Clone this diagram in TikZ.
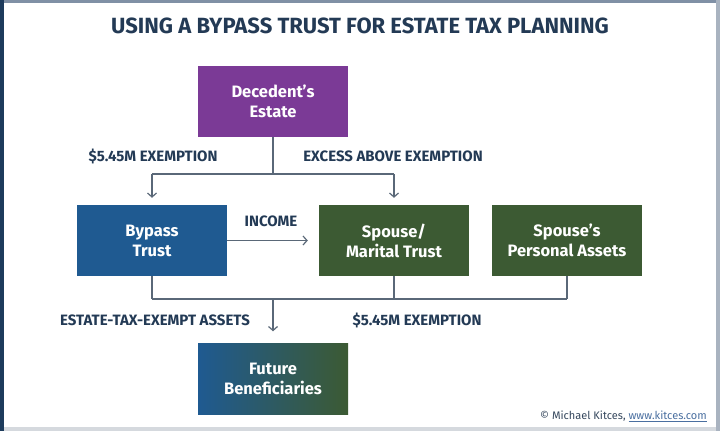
\documentclass[tikz,border=0pt]{standalone}
\usepackage{fontspec}
\setmainfont{Fira Sans}
\usetikzlibrary{arrows.meta}
\definecolor{navy}{HTML}{233A55}
\definecolor{purp}{HTML}{7B3A96}
\definecolor{bblue}{HTML}{1F5A91}
\definecolor{dgreen}{HTML}{3C5A33}
\definecolor{linec}{HTML}{5A6878}
\definecolor{framet}{HTML}{8090A5}
\definecolor{framel}{HTML}{1D3B5C}
\definecolor{framer}{HTML}{A9B3C0}
\definecolor{frameb}{HTML}{D5D9DE}
\definecolor{linkc}{HTML}{4A6FA0}
\tikzset{
  box/.style={minimum width=150pt, minimum height=71pt, inner sep=0pt, text=white,
    font=\fontsize{16.5}{20}\selectfont\bfseries, align=center},
  lbl/.style={text=navy, font=\fontsize{15}{17}\selectfont\bfseries, inner sep=0pt},
  conn/.style={draw=linec, line width=1.4pt},
  arr/.style={conn, -{Straight Barb[length=4pt,width=9pt,line width=1.2pt]}}
}
\begin{document}
\begin{tikzpicture}[x=1pt,y=-1pt]
\useasboundingbox (0,0) rectangle (720,431);
\fill[white] (0,0) rectangle (720,431);
\fill[framet] (0,0) rectangle (720,3);
\fill[frameb] (0,427) rectangle (720,431);
\fill[framel] (0,0) rectangle (4,431);
\fill[framer] (716,0) rectangle (720,431);

\node[text=navy, font=\fontsize{22}{26}\selectfont\bfseries, inner sep=0pt] (title) at (360,26) {USING A BYPASS TRUST FOR ESTATE TAX PLANNING};

\node[box, fill=purp] (dec) at (273,101) {Decedent's\\Estate};
\node[box, fill=bblue] (byp) at (152,240.5) {Bypass\\Trust};
\node[box, fill=dgreen] (mar) at (394,240.5) {Spouse/\\Marital Trust};
\node[box, fill=dgreen] (per) at (567,240.5) {Spouse's\\Personal Assets};
\node[box, left color=bblue, right color=dgreen] (fut) at (273,379) {Future\\Beneficiaries};

\coordinate (j1) at (273,174);
\coordinate (j1l) at (152,174);
\coordinate (j1r) at (394,174);
\coordinate (j2) at (273,299);
\coordinate (j2l) at (152,299);
\coordinate (j2r) at (567,299);

\draw[conn] (dec.south) -- (j1);
\draw[conn] (j1l) -- (j1r);
\draw[arr] (j1l) -- ([yshift=7pt]byp.north);
\draw[arr] (j1r) -- ([yshift=7pt]mar.north);
\draw[arr] (byp.east) -- ([xshift=-11pt]mar.west);

\draw[conn] (byp.south) -- (j2l);
\draw[conn] (mar.south) -- (j1r |- j2);
\draw[conn] (per.south) -- (j2r);
\draw[conn] (j2l) -- (j2r);
\draw[arr] (j2) -- ([yshift=12pt]fut.north);

\node[lbl] (l1) at (153,156) {\$5.45M EXEMPTION};
\node[lbl] (l2) at (393,156) {EXCESS ABOVE EXEMPTION};
\node[lbl] (l3) at (271,221) {INCOME};
\node[lbl] (l4) at (155,320) {ESTATE-TAX-EXEMPT ASSETS};
\node[lbl] (l5) at (417,320) {\$5.45M EXEMPTION};

\node[anchor=east, text=navy!80!gray, font=\fontsize{11}{13}\selectfont, inner sep=0pt] (cred) at (707,416) {© Michael Kitces, \textcolor{linkc}{\underline{www.kitces.com}}};
\end{tikzpicture}
\end{document}
